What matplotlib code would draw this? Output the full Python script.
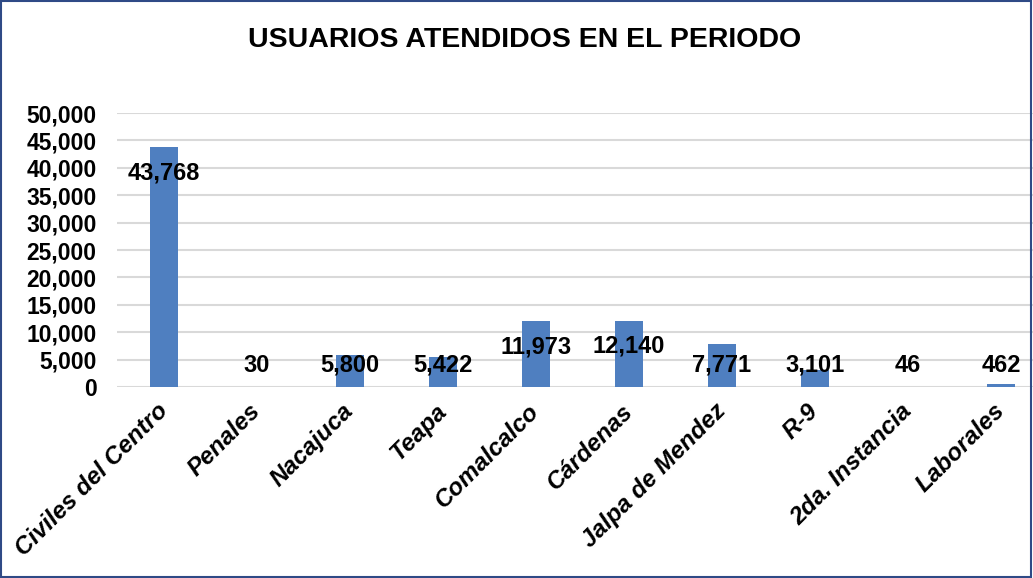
import matplotlib
matplotlib.use("Agg")
import matplotlib.pyplot as plt
import matplotlib.transforms as mtransforms
from matplotlib.patches import Rectangle
from matplotlib.ticker import FuncFormatter

categories = [
    "Civiles del Centro", "Penales", "Nacajuca", "Teapa", "Comalcalco",
    "Cárdenas", "Jalpa de Mendez", "R-9", "2da. Instancia", "Laborales",
]
usuarios = [43768, 30, 5800, 5422, 11973, 12140, 7771, 3101, 46, 462]
y_ticks = [0, 5000, 10000, 15000, 20000, 25000, 30000, 35000, 40000, 45000, 50000]

plt.rcParams["font.family"] = ["Liberation Sans", "DejaVu Sans"]

fig = plt.figure(figsize=(10.33, 5.78), dpi=100)
ax = fig.add_axes([0.1137, 0.3304, 0.9003, 0.474])

x = list(range(len(categories)))
ax.bar(x, usuarios, width=0.31, color="#4F7FC0", zorder=3)

for xi, v in zip(x, usuarios):
    # labels sit inside the top of tall bars, at a fixed low height otherwise
    y_lab = max(v - 4700, 4000)
    ax.text(xi, y_lab, f"{v:,}", ha="center", va="center",
            fontsize=17, fontweight="bold", color="black", zorder=4)

ax.set_xlim(-0.5, len(categories) - 0.5)
ax.set_ylim(0, 50000)
ax.set_yticks(y_ticks)
ax.yaxis.set_major_formatter(FuncFormatter(lambda v, p: f"{int(v):,}"))
ax.grid(axis="y", color="#D9D9D9", linewidth=1.5, zorder=0)
for s in ax.spines.values():
    s.set_visible(False)
ax.tick_params(axis="y", length=0, pad=15, labelsize=16.5)
ax.tick_params(axis="x", length=0, pad=9)
for lab in ax.get_yticklabels():
    lab.set_fontweight("bold")

ax.set_xticks(x)
ax.set_xticklabels(categories, rotation=45, ha="right", rotation_mode="anchor",
                   fontsize=17.5, fontweight="bold", fontstyle="italic")
shift = mtransforms.ScaledTranslation(-8 / 100, 0, fig.dpi_scale_trans)
for lab in ax.get_xticklabels():
    lab.set_transform(lab.get_transform() + shift)

fig.text(0.508, 0.931, "USUARIOS ATENDIDOS EN EL PERIODO", ha="center", va="center",
         fontsize=20.5, fontweight="bold")

fig.patches.append(Rectangle((0.001, 0.002), 0.997, 0.996, transform=fig.transFigure,
                             fill=False, edgecolor="#2F4A86", linewidth=1.5))

fig.savefig("out.png", dpi=100)
